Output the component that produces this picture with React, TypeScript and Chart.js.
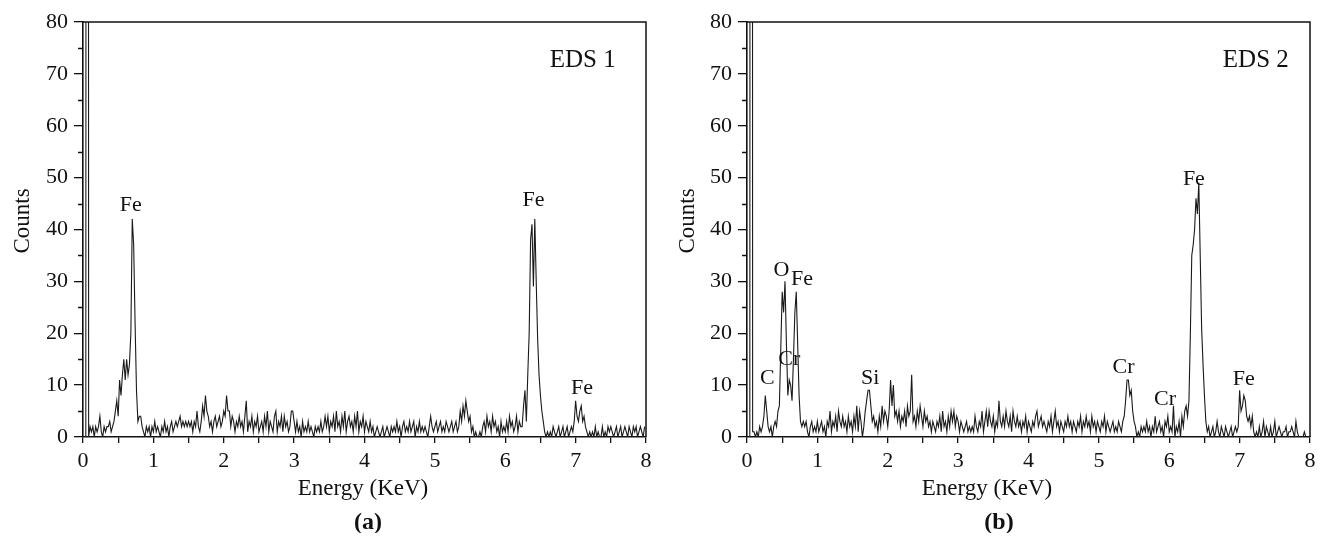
import { useEffect, useRef } from "react";
import { Chart, registerables } from "chart.js";

Chart.register(...registerables);

// EDS spectra: counts per 0.02 keV channel, first channel at 0.04 keV
const ENERGY_START = 0.04;
const ENERGY_STEP = 0.02;

const eds1Counts = [
  0, 1000, 0, 2, 1, 2, 0, 2, 1, 2,
  4, 1, 0, 2, 1, 2, 2, 3, 1, 2,
  3, 5, 7, 4, 11, 8, 12, 15, 11, 15,
  12, 14, 20, 42, 37, 22, 9, 3, 4, 4,
  2, 1, 0, 2, 1, 2, 0, 2, 1, 3,
  1, 2, 1, 0, 2, 1, 3, 1, 2, 0,
  2, 3, 1, 2, 3, 2, 3, 4, 2, 3,
  2, 3, 2, 3, 2, 3, 1, 3, 2, 5,
  2, 1, 3, 6, 4, 8, 5, 4, 2, 3,
  1, 3, 4, 2, 3, 4, 2, 3, 5, 4,
  8, 5, 5, 2, 4, 3, 1, 3, 2, 4,
  2, 3, 1, 4, 7, 1, 3, 2, 4, 1,
  3, 2, 4, 1, 2, 3, 1, 4, 2, 5,
  1, 3, 2, 1, 4, 5, 1, 3, 2, 4,
  1, 4, 2, 3, 1, 2, 5, 5, 3, 1,
  3, 1, 2, 0, 3, 1, 2, 1, 3, 1,
  2, 1, 0, 2, 1, 2, 1, 3, 1, 2,
  4, 2, 4, 1, 3, 2, 4, 1, 5, 2,
  3, 1, 4, 2, 5, 1, 3, 4, 2, 3,
  1, 4, 2, 5, 1, 3, 2, 4, 1, 3,
  2, 1, 3, 1, 2, 0, 1, 2, 1, 0,
  1, 2, 0, 1, 2, 1, 0, 2, 1, 2,
  1, 3, 1, 2, 0, 2, 3, 1, 2, 1,
  3, 1, 2, 3, 0, 2, 1, 3, 1, 2,
  1, 2, 1, 0, 2, 4, 2, 1, 2, 3,
  1, 2, 3, 1, 2, 1, 3, 2, 1, 2,
  3, 1, 2, 3, 1, 2, 5, 3, 6, 4,
  7, 5, 3, 4, 1, 2, 0, 1, 0, 0,
  1, 0, 2, 3, 1, 4, 2, 3, 1, 4,
  2, 3, 1, 2, 0, 3, 1, 2, 1, 3,
  1, 4, 2, 3, 1, 2, 4, 1, 3, 2,
  2, 6, 9, 3, 12, 20, 38, 41, 29, 42,
  30, 19, 12, 8, 5, 3, 1, 0, 1, 0,
  1, 0, 2, 1, 0, 1, 2, 0, 1, 2,
  0, 1, 2, 0, 1, 2, 1, 3, 7, 4,
  3, 5, 6, 3, 4, 2, 1, 0, 1, 0,
  1, 0, 2, 0, 1, 0, 0, 2, 0, 1,
  0, 2, 1, 2, 1, 0, 1, 2, 0, 1,
  2, 0, 1, 2, 1, 0, 2, 1, 0, 2,
  1, 2, 0, 1, 2, 1, 0, 2,
];

const eds2Counts = [
  0, 1000, 1, 1, 0, 1, 0, 2, 1, 2,
  4, 8, 5, 2, 1, 2, 0, 2, 3, 2,
  5, 6, 17, 28, 24, 30, 18, 8, 11, 10,
  7, 15, 24, 28, 18, 8, 3, 2, 3, 2,
  3, 1, 0, 2, 3, 1, 2, 1, 3, 1,
  2, 3, 1, 2, 0, 3, 2, 5, 1, 3,
  2, 4, 1, 5, 3, 2, 4, 2, 3, 1,
  4, 2, 3, 1, 4, 2, 6, 1, 5, 3,
  0, 2, 5, 7, 9, 9, 6, 3, 4, 2,
  3, 1, 4, 2, 6, 3, 5, 4, 2, 5,
  11, 6, 10, 4, 5, 3, 5, 2, 4, 3,
  5, 2, 6, 4, 5, 12, 3, 4, 2, 5,
  3, 6, 4, 2, 5, 3, 4, 2, 3, 1,
  3, 2, 1, 3, 2, 4, 1, 5, 2, 3,
  1, 4, 2, 5, 3, 5, 2, 4, 3, 1,
  3, 2, 1, 2, 3, 1, 2, 1, 2, 1,
  4, 2, 1, 3, 2, 5, 1, 3, 5, 2,
  5, 3, 2, 4, 1, 3, 2, 7, 3, 2,
  4, 2, 5, 3, 2, 4, 1, 5, 3, 2,
  4, 2, 3, 1, 3, 2, 4, 1, 3, 2,
  1, 3, 2, 4, 5, 2, 3, 4, 2, 3,
  2, 1, 3, 2, 4, 1, 3, 5, 2, 3,
  1, 3, 2, 1, 3, 2, 4, 2, 3, 1,
  3, 2, 1, 3, 2, 4, 1, 3, 2, 4,
  2, 3, 1, 4, 2, 3, 1, 3, 2, 1,
  3, 2, 4, 1, 3, 2, 1, 2, 3, 1,
  2, 1, 3, 2, 1, 3, 4, 7, 11, 11,
  8, 9, 5, 3, 2, 0, 1, 0, 2, 1,
  2, 1, 3, 1, 2, 0, 2, 1, 4, 1,
  2, 3, 1, 2, 0, 3, 2, 4, 1, 2,
  1, 6, 0, 2, 1, 3, 0, 4, 2, 5,
  6, 4, 7, 20, 35, 37, 40, 46, 43, 49,
  35, 21, 14, 8, 3, 1, 2, 0, 1, 2,
  0, 1, 3, 1, 0, 2, 1, 0, 2, 1,
  0, 1, 2, 0, 1, 2, 1, 2, 9, 5,
  6, 8, 7, 4, 3, 4, 2, 4, 1, 0,
  1, 0, 2, 0, 1, 3, 0, 2, 1, 0,
  2, 0, 1, 3, 0, 1, 2, 1, 0, 1,
  1, 2, 0, 1, 1, 2, 1, 0, 3, 1,
  0, 0, 0, 0, 1, 0,
];

// axis ticks
const xTickValues = [0, 0.5, 1, 1.5, 2, 2.5, 3, 3.5, 4, 4.5, 5, 5.5, 6, 6.5, 7, 7.5, 8];
const xTickLabels = ["0", "1", "2", "3", "4", "5", "6", "7", "8"];
const yTickValues = [0, 10, 20, 30, 40, 50, 60, 70, 80];
const yMinorTickValues = [5, 15, 25, 35, 45, 55, 65, 75];

// peak labels: element, energy (keV), counts
const eds1PeakNames = ["Fe", "Fe", "Fe"];
const eds1PeakEnergy = [0.68, 6.4, 7.09];
const eds1PeakCount = [44.7, 45.6, 9.4];

const eds2PeakNames = ["C", "O", "Fe", "Cr", "Si", "Cr", "Cr", "Fe", "Fe"];
const eds2PeakEnergy = [0.29, 0.49, 0.78, 0.6, 1.75, 5.35, 5.94, 6.35, 7.06];
const eds2PeakCount = [11.4, 32.2, 30.4, 15.0, 11.4, 13.5, 7.3, 49.7, 11.2];

const SERIF = '"Liberation Serif", "Times New Roman", serif';
const INK = "#111";

type Panel = {
  counts: number[];
  names: string[];
  energies: number[];
  peakCounts: number[];
  tag: string;
  tagEnergy: number;
  tagCount: number;
  caption: string;
  width: number;
  yAxisWidth: number;
  padRight: number;
  countsX: number;
  energyX: number;
  captionX: number;
};

const HEIGHT = 525;

const panels: Panel[] = [
  {
    counts: eds1Counts,
    names: eds1PeakNames,
    energies: eds1PeakEnergy,
    peakCounts: eds1PeakCount,
    tag: "EDS 1",
    tagEnergy: 7.1,
    tagCount: 72.6,
    caption: "(a)",
    width: 660,
    yAxisWidth: 75,
    padRight: 22,
    countsX: 15,
    energyX: 355,
    captionX: 360,
  },
  {
    counts: eds2Counts,
    names: eds2PeakNames,
    energies: eds2PeakEnergy,
    peakCounts: eds2PeakCount,
    tag: "EDS 2",
    tagEnergy: 7.23,
    tagCount: 72.6,
    caption: "(b)",
    width: 653,
    yAxisWidth: 79,
    padRight: 11,
    countsX: 20,
    energyX: 319,
    captionX: 331,
  },
];

function SpectrumPanel({ panel }: { panel: Panel }) {
  const ref = useRef<HTMLCanvasElement | null>(null);

  useEffect(() => {
    if (!ref.current) return;
    const points = panel.counts.map((c, i) => ({
      x: +(ENERGY_START + i * ENERGY_STEP).toFixed(2),
      y: c,
    }));

    const decor = {
      id: "decor",
      afterDraw(chart: any) {
        const { ctx, chartArea: a, scales } = chart;
        const x = scales.x;
        const y = scales.y;
        ctx.save();
        ctx.strokeStyle = INK;
        ctx.lineWidth = 1.5;
        ctx.beginPath();
        ctx.moveTo(a.left, a.top);
        ctx.lineTo(a.right, a.top);
        ctx.lineTo(a.right, a.bottom);
        ctx.stroke();

        ctx.lineWidth = 1.3;
        ctx.beginPath();
        for (const v of yMinorTickValues) {
          const py = Math.round(y.getPixelForValue(v)) + 0.5;
          ctx.moveTo(a.left - 5, py);
          ctx.lineTo(a.left, py);
        }
        ctx.stroke();

        ctx.fillStyle = INK;
        ctx.textAlign = "center";
        ctx.textBaseline = "middle";
        ctx.font = `22px ${SERIF}`;
        panel.names.forEach((n, i) => {
          ctx.fillText(n, x.getPixelForValue(panel.energies[i]), y.getPixelForValue(panel.peakCounts[i]));
        });
        ctx.font = `25px ${SERIF}`;
        ctx.fillText(panel.tag, x.getPixelForValue(panel.tagEnergy), y.getPixelForValue(panel.tagCount));

        ctx.font = `23px ${SERIF}`;
        ctx.fillText("Energy (KeV)", panel.energyX, 481);
        ctx.font = `bold 24px ${SERIF}`;
        ctx.fillText(panel.caption, panel.captionX, 515);

        ctx.save();
        ctx.translate(panel.countsX, 213);
        ctx.rotate(-Math.PI / 2);
        ctx.font = `23px ${SERIF}`;
        ctx.fillText("Counts", 0, 0);
        ctx.restore();
        ctx.restore();
      },
    };

    const chart = new Chart(ref.current, {
      type: "line",
      data: {
        datasets: [
          {
            data: points,
            borderColor: "#1a1a1a",
            borderWidth: 1.1,
            pointRadius: 0,
            tension: 0,
            fill: false,
          },
        ],
      },
      options: {
        responsive: true,
        maintainAspectRatio: false,
        animation: false,
        events: [],
        layout: { padding: { top: 14, right: panel.padRight, left: 0, bottom: 0 } },
        plugins: { legend: { display: false }, tooltip: { enabled: false } },
        scales: {
          x: {
            type: "linear",
            min: 0,
            max: 8,
            afterBuildTicks: (s: any) => {
              s.ticks = xTickValues.map((value) => ({ value }));
            },
            afterFit: (s: any) => {
              s.height = 96;
              s.paddingLeft = 0;
              s.paddingRight = 0;
            },
            ticks: {
              autoSkip: false,
              maxRotation: 0,
              padding: 5,
              color: INK,
              font: { family: SERIF, size: 22 },
              callback: (v: any) => (Number.isInteger(v) ? xTickLabels[v] : ""),
            },
            grid: { drawOnChartArea: false, drawTicks: true, tickLength: 6, color: INK, lineWidth: 1.3 },
            border: { display: true, color: INK, width: 1.6 },
          },
          y: {
            type: "linear",
            min: 0,
            max: 80,
            afterBuildTicks: (s: any) => {
              s.ticks = yTickValues.map((value) => ({ value }));
            },
            afterFit: (s: any) => {
              s.width = panel.yAxisWidth;
              s.paddingTop = 0;
              s.paddingBottom = 0;
            },
            ticks: {
              padding: 6,
              color: INK,
              font: { family: SERIF, size: 22 },
            },
            grid: { drawOnChartArea: false, drawTicks: true, tickLength: 9, color: INK, lineWidth: 1.3 },
            border: { display: true, color: INK, width: 1.6 },
          },
        },
      },
      plugins: [decor],
    } as any);

    return () => chart.destroy();
  }, [panel]);

  return (
    <div style={{ position: "relative", width: panel.width, height: HEIGHT }}>
      <canvas ref={ref} />
    </div>
  );
}

export default function App() {
  return (
    <div style={{ display: "flex", width: 1313, height: HEIGHT, background: "#fff" }}>
      {panels.map((p) => (
        <SpectrumPanel key={p.tag} panel={p} />
      ))}
    </div>
  );
}
